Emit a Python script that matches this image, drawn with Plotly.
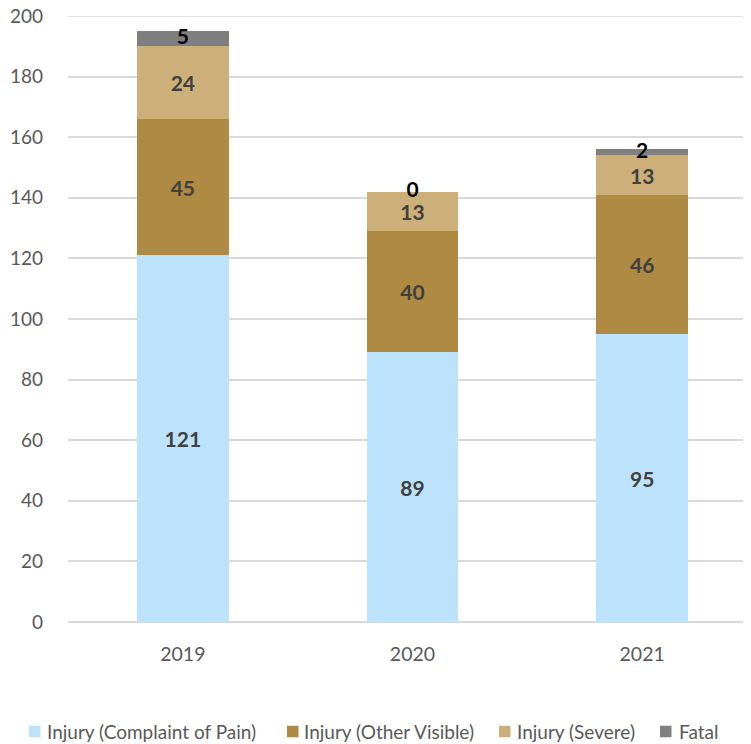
import plotly.graph_objects as go

years = ["2019", "2020", "2021"]
pain = [121, 89, 95]
visible = [45, 40, 46]
severe = [24, 13, 13]
fatal = [5, 0, 2]
names = ["Injury (Complaint of Pain)", "Injury (Other Visible)", "Injury (Severe)", "Fatal"]
colors = ["#BDE3FC", "#AE8A42", "#CDB079", "#7F7F7F"]
y_max = 200

FONT = "Lato, Open Sans, sans-serif"
fig = go.Figure()
for name, vals, col in zip(names[:3], [pain, visible, severe], colors[:3]):
    fig.add_trace(go.Bar(
        x=years, y=vals, name=name, marker=dict(color=col, line=dict(width=0)),
        width=0.4, text=[str(v) for v in vals], textposition="inside",
        insidetextanchor="middle", constraintext="none",
        textfont=dict(family=FONT, size=21, color="#404040", weight="bold"),
        hoverinfo="skip", showlegend=False,
    ))
fig.add_trace(go.Bar(
    x=years, y=fatal, name=names[3], marker=dict(color=colors[3], line=dict(width=0)),
    width=0.4, hoverinfo="skip", showlegend=False,
))
base = [p + v + s for p, v, s in zip(pain, visible, severe)]
fig.add_trace(go.Scatter(
    x=years, y=[b + f / 2 for b, f in zip(base, fatal)], mode="text",
    text=[str(f) for f in fatal], textposition="middle center",
    textfont=dict(family=FONT, size=21, color="#000000", weight="bold"),
    showlegend=False, hoverinfo="skip", cliponaxis=False,
))

# page body has an 8px margin, so the figure is offset by 8px.
# plot area in page pixels: x 68..751, y 16..622
PL, PR, PT, PB = 68, 751, 16, 622
def px(x):
    return (x - PL) / (PR - PL)
def py(y):
    return (PB - y) / (PB - PT)

# custom legend (one row, as in the reference)
sq_left = [29, 287, 499, 660]
txt_left = [45, 302, 515, 677]
ly = 731.5
shapes = [dict(type="line", xref="paper", yref="y", x0=0, x1=1, y0=y_max, y1=y_max,
               line=dict(color="#D9D9D9", width=1.5), layer="below")]
annotations = []
for name, col, sx, tx in zip(names, colors, sq_left, txt_left):
    shapes.append(dict(type="rect", xref="paper", yref="paper",
                       x0=px(sx), x1=px(sx + 11.5), y0=py(ly + 5.75), y1=py(ly - 5.75),
                       fillcolor=col, line=dict(width=0)))
    annotations.append(dict(xref="paper", yref="paper", x=px(tx), y=py(ly),
                            xanchor="left", yanchor="middle", showarrow=False,
                            text=name, font=dict(family=FONT, size=19, color="#595959")))

fig.update_layout(
    barmode="stack",
    width=743, height=736,
    margin=dict(l=60, r=0, t=8, b=122),
    paper_bgcolor="white", plot_bgcolor="white",
    font=dict(family=FONT, size=18, color="#595959"),
    xaxis=dict(type="category", range=[-0.5, 2.474], showgrid=False, automargin=False,
               showline=False, ticks="", ticklabelstandoff=18,
               tickfont=dict(size=19.5, color="#595959")),
    yaxis=dict(range=[0, y_max], dtick=20, showgrid=True, gridcolor="#D9D9D9",
               gridwidth=1.5, zeroline=True, zerolinecolor="#D9D9D9", zerolinewidth=1.5,
               showline=False, ticks="", ticklabelstandoff=24, automargin=False,
               ticklabeloverflow="allow",
               tickfont=dict(size=19, color="#595959")),
    shapes=shapes,
    annotations=annotations,
    showlegend=False,
)
fig.write_html("out.html")
